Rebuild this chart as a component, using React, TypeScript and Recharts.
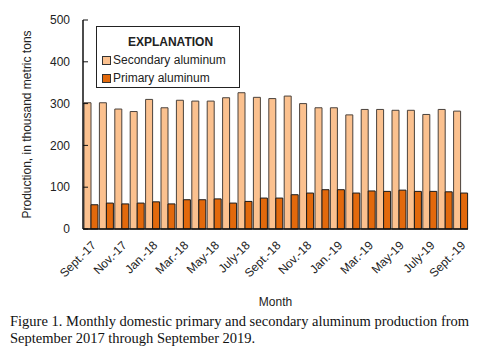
import React from "react";
import {
  BarChart,
  Bar,
  XAxis,
  YAxis,
  Legend,
} from "recharts";

const months = [
  "Sept.-17", "Oct.-17", "Nov.-17", "Dec.-17", "Jan.-18", "Feb.-18", "Mar.-18",
  "Apr.-18", "May-18", "June-18", "July-18", "Aug.-18", "Sept.-18", "Oct.-18",
  "Nov.-18", "Dec.-18", "Jan.-19", "Feb.-19", "Mar.-19", "Apr.-19", "May-19",
  "June-19", "July-19", "Aug.-19", "Sept.-19",
];

const secondary = [
  302, 302, 287, 281, 310, 290, 308, 306, 306, 314, 326, 315, 312, 318, 300,
  290, 290, 273, 286, 286, 284, 284, 274, 286, 282,
];

const primary = [
  58, 62, 60, 62, 65, 60, 70, 70, 72, 62, 66, 74, 74, 82, 86, 94, 94, 86, 91,
  90, 93, 90, 90, 89, 86,
];

const yTicks = [0, 100, 200, 300, 400, 500];

const data = months.map((m, i) => ({
  month: m,
  secondary: secondary[i],
  primary: primary[i],
}));

const SEC_FILL = "#FBC18F";
const SEC_STROKE = "#4a423c";
const PRI_FILL = "#E2690C";
const PRI_STROKE = "#1a1a1a";
const FONT = "'Liberation Sans', Arial, sans-serif";

const Swatch = ({ fill }: { fill: string }) => (
  <span
    style={{
      display: "inline-block",
      width: 7,
      height: 7,
      background: fill,
      border: "1px solid #333",
      marginRight: 2,
      verticalAlign: "middle",
    }}
  />
);

const Explanation = () => (
  <div
    style={{
      border: "1.5px solid #222",
      width: 144,
      height: 62,
      boxSizing: "border-box",
      fontFamily: FONT,
      fontSize: 12,
      color: "#222",
      background: "#fff",
      paddingLeft: 5,
    }}
  >
    <div style={{ textAlign: "center", fontWeight: "bold", marginTop: 8, lineHeight: "14px" }}>
      EXPLANATION
    </div>
    <div style={{ lineHeight: "18px", marginTop: 2 }}>
      <Swatch fill={SEC_FILL} />
      Secondary aluminum
    </div>
    <div style={{ lineHeight: "18px" }}>
      <Swatch fill={PRI_FILL} />
      Primary aluminum
    </div>
  </div>
);

export default function App() {
  return (
    <div style={{ position: "absolute", left: 0, top: 0, width: 500, height: 362, background: "#fff" }}>
      <BarChart
        width={500}
        height={310}
        data={data}
        margin={{ top: 20, right: 32, left: 23, bottom: 0 }}
        barCategoryGap={1}
        barGap={0}
      >
        <XAxis
          dataKey="month"
          interval={1}
          height={81}
          tickLine={false}
          axisLine={{ stroke: "#111", strokeWidth: 1.5 }}
          angle={-45}
          textAnchor="end"
          tickMargin={5}
          tick={{ fontSize: 12, fill: "#222", fontFamily: FONT }}
          label={{
            value: "Month",
            position: "insideBottom",
            offset: 4,
            fontSize: 12,
            fill: "#222",
            fontFamily: FONT,
          }}
        />
        <XAxis
          xAxisId="top"
          dataKey="month"
          orientation="top"
          height={0}
          tick={false}
          tickLine={false}
          axisLine={{ stroke: "#333", strokeWidth: 1 }}
        />
        <YAxis
          width={60}
          domain={[0, 500]}
          ticks={yTicks}
          tickSize={-5}
          tickMargin={18}
          tickLine={{ stroke: "#111" }}
          axisLine={{ stroke: "#111", strokeWidth: 1.5 }}
          tick={{ fontSize: 12, fill: "#222", fontFamily: FONT }}
          label={{
            value: "Production, in thousand metric tons",
            angle: -90,
            position: "center",
            dx: -26,
            fontSize: 12,
            fill: "#222",
            fontFamily: FONT,
          }}
        />
        <YAxis
          yAxisId="r"
          orientation="right"
          width={0}
          domain={[0, 500]}
          ticks={yTicks}
          tickSize={-5}
          tick={false}
          tickLine={{ stroke: "#111" }}
          axisLine={{ stroke: "#111", strokeWidth: 1.5 }}
        />
        <Legend
          layout="vertical"
          align="center"
          verticalAlign="middle"
          content={() => <Explanation />}
          wrapperStyle={{ left: 96, top: 26, width: 144 }}
        />
        <Bar
          dataKey="secondary"
          name="Secondary aluminum"
          fill={SEC_FILL}
          stroke={SEC_STROKE}
          strokeWidth={1}
          isAnimationActive={false}
        />
        <Bar
          dataKey="primary"
          name="Primary aluminum"
          fill={PRI_FILL}
          stroke={PRI_STROKE}
          strokeWidth={1}
          isAnimationActive={false}
        />
      </BarChart>
      <div
        style={{
          position: "absolute",
          left: 10,
          top: 313,
          fontFamily: "'Liberation Serif', 'Times New Roman', serif",
          fontSize: 14.5,
          lineHeight: "17px",
          color: "#111",
          whiteSpace: "nowrap",
        }}
      >
        Figure 1. Monthly domestic primary and secondary aluminum production from
        <br />
        September 2017 through September 2019.
      </div>
    </div>
  );
}
